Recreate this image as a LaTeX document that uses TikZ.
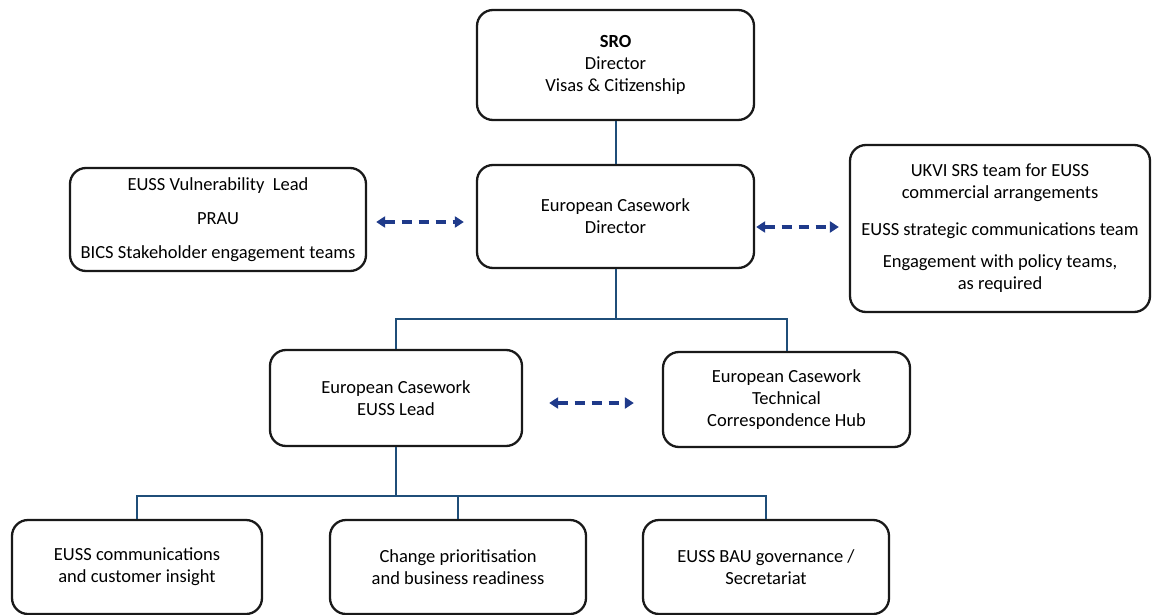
\documentclass[tikz,border=0pt]{standalone}
\usepackage{fontspec}
\setmainfont{Carlito}
\usetikzlibrary{arrows.meta,calc}
\definecolor{conn}{HTML}{1F4E79}
\definecolor{arr}{HTML}{1F3A8A}
\begin{document}
\begin{tikzpicture}[x=1pt,y=-1pt,
  box/.style={draw=black!90, line width=2.3pt, rounded corners=16pt, fill=white, align=center, inner sep=0pt, font=\fontsize{18.5}{22}\selectfont},
  link/.style={draw=conn, line width=2pt},
  dasharrow/.style={draw=arr, line width=3.2pt, dash pattern=on 10pt off 7pt, {Triangle[length=9pt,width=11pt]}-{Triangle[length=9pt,width=11pt]}}]
\useasboundingbox (0,0) rectangle (1153,615);
\node[box, minimum width=277pt, minimum height=110pt] (sro) at (615.5,65) {\textbf{SRO}\\Director\\Visas \& Citizenship};
\node[box, minimum width=277pt, minimum height=103pt] (dir) at (615.5,216.5) {European Casework\\Director};
\node[box, minimum width=296pt, minimum height=103pt] (left) at (218,219.5) {EUSS Vulnerability\ \ Lead\\[12pt]PRAU\\[12pt]BICS Stakeholder engagement teams};
\node[box, minimum width=300pt, minimum height=167pt] (right) at (1000,228.5) {UKVI SRS team for EUSS\\commercial arrangements\\[15pt]EUSS strategic communications team\\[10pt]Engagement with policy teams,\\as required};
\node[box, minimum width=252pt, minimum height=96pt] (lead) at (396,398) {European Casework\\EUSS Lead};
\node[box, minimum width=247pt, minimum height=95pt] (hub) at (786.5,399.5) {European Casework\\Technical\\Correspondence Hub};
\node[box, minimum width=250pt, minimum height=94pt] (b1) at (137,567) {EUSS communications\\and customer insight};
\node[box, minimum width=256pt, minimum height=94pt] (b2) at (458,567) {Change prioritisation\\and business readiness};
\node[box, minimum width=246pt, minimum height=94pt] (b3) at (766,567) {EUSS BAU governance /\\Secretariat};
% connectors
\draw[link] (sro.south) -- (dir.north);
\draw[link] (dir.south) -- ++(0,50) coordinate (s1);
\draw[link] (lead.north) |- (s1) -| (hub.north);
\draw[link] (lead.south) -- ++(0,49) coordinate (s2);
\draw[link] (b1.north) |- (s2) -| (b3.north);
\draw[link] (b2.north) -- (b2.north |- s2);
% dashed arrows
\draw[dasharrow, shorten <=9pt, shorten >=12pt] ($(left.east)+(0,2.5)$) coordinate (la) -- (la -| dir.west);
\draw[dasharrow, shorten <=1pt, shorten >=10pt] ($(dir.east)+(0,10.5)$) coordinate (ra) -- (ra -| right.west);
\draw[dasharrow, shorten <=26pt, shorten >=28pt] ($(lead.east)+(0,5)$) coordinate (ma) -- (ma -| hub.west);
\end{tikzpicture}
\end{document}
